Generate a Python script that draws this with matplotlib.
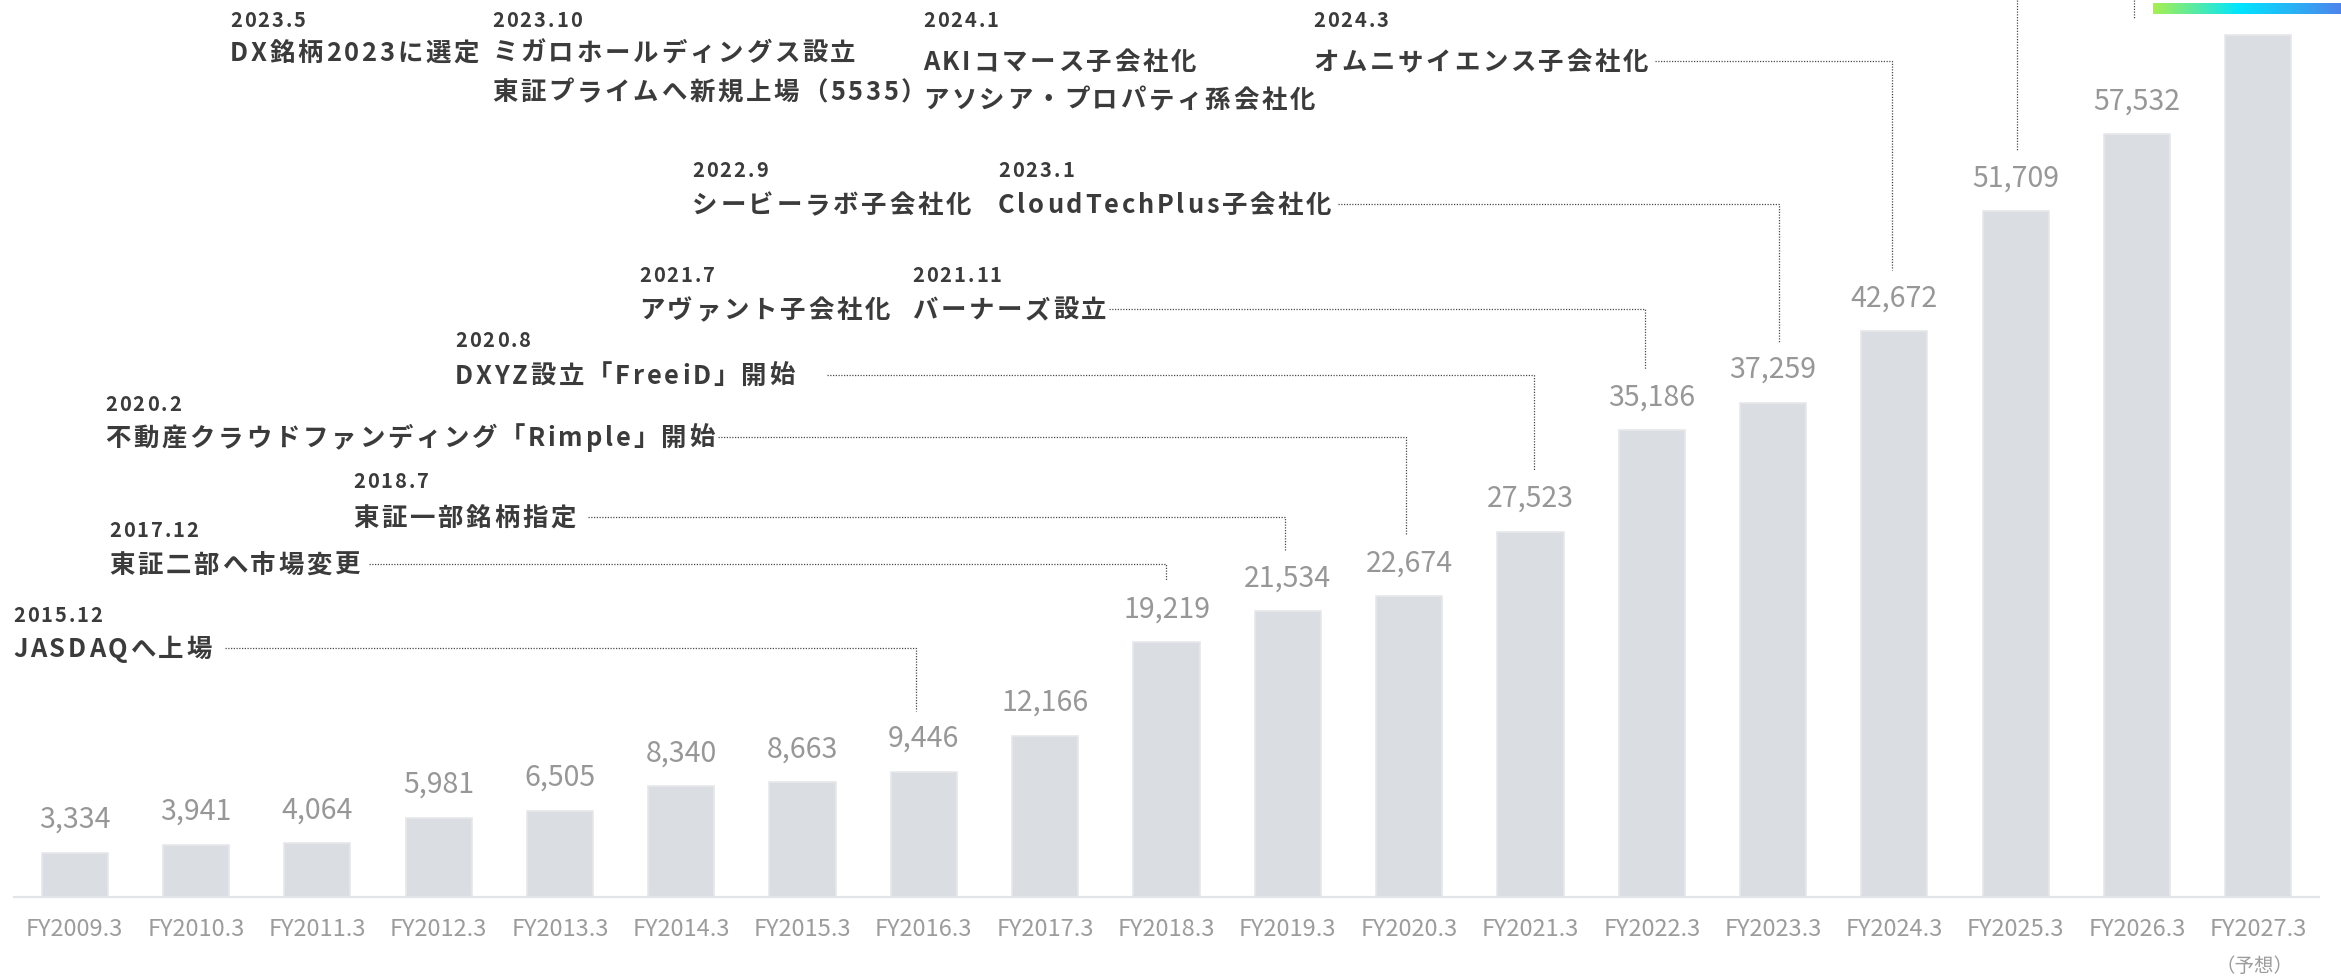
import matplotlib
matplotlib.use("Agg")
import matplotlib.pyplot as plt
import matplotlib.transforms as mtransforms
from matplotlib.colors import LinearSegmentedColormap
from matplotlib.font_manager import FontProperties
from matplotlib.lines import Line2D
import numpy as np

plt.rcParams["font.family"] = ["Noto Sans CJK JP", "DejaVu Sans"]

# 売上高の推移（百万円）
years = ["FY2009.3", "FY2010.3", "FY2011.3", "FY2012.3", "FY2013.3", "FY2014.3",
         "FY2015.3", "FY2016.3", "FY2017.3", "FY2018.3", "FY2019.3", "FY2020.3",
         "FY2021.3", "FY2022.3", "FY2023.3", "FY2024.3", "FY2025.3", "FY2026.3",
         "FY2027.3"]
sales = [3334, 3941, 4064, 5981, 6505, 8340, 8663, 9446, 12166, 19219, 21534,
         22674, 27523, 35186, 37259, 42672, 51709, 57532, 65000]
# FY2027.3 は予想、数値ラベルは上端で切れて見えない
forecast_note = "（予想）"

# 沿革
event_dates = ["2015.12", "2017.12", "2018.7", "2020.2", "2020.8", "2021.7", "2021.11",
               "2022.9", "2023.1", "2023.5", "2023.10", "2024.1", "2024.3"]
event_texts = [
    ["JASDAQへ上場"],
    ["東証二部へ市場変更"],
    ["東証一部銘柄指定"],
    ["不動産クラウドファンディング「Rimple」開始"],
    ["DXYZ設立「FreeiD」開始"],
    ["アヴァント子会社化"],
    ["バーナーズ設立"],
    ["シービーラボ子会社化"],
    ["CloudTechPlus子会社化"],
    ["DX銘柄2023に選定"],
    ["ミガロホールディングス設立", "東証プライムへ新規上場（5535）"],
    ["AKIコマース子会社化", "アソシア・プロパティ孫会社化"],
    ["オムニサイエンス子会社化"],
]
event_bar = [7, 9, 10, 11, 12, None, 13, None, 14, None, None, None, 15]
# 画面の上にはみ出した沿革から下りてくる線
offscreen_bar = [16, 17]

# ---- layout (pixels from top-left) ----
W, H = 2341, 976
ev_x = [13, 109, 353, 105, 455, 639, 912, 692, 998, 230, 492, 923, 1313]
ev_date_y = [622, 537, 488, 411, 347, 282, 282, 177, 177, 27, 27, 27, 27]
ev_text_y = [657, 573, 526, 446, 384, 318, 318, 213, 213, 61, 61, 70, 70]
ev_line_step = [0, 0, 0, 0, 0, 0, 0, 0, 0, 0, 39, 38, 0]
ev_gap = [10, 6, 10, 0, 29, 0, 0, 0, 4, 0, 0, 0, 4]
ev_line_dx = {7: -8, 9: -1, 10: -3, 11: -3, 12: 4, 13: -7, 14: 6, 15: -2, 16: 1, 17: -3}
offscreen_drop = [61, 116]

fig = plt.figure(figsize=(W / 100, H / 100), dpi=100)
renderer = fig.canvas.get_renderer()
TOP = mtransforms.Affine2D().scale(1, -1).translate(0, H)

ax = fig.add_axes([14 / W, 79 / H, 2305 / W, 897 / H])
x = np.arange(len(years))
ax.bar(x, sales, width=0.545, color="#dadde1", edgecolor="#e5e7ea", linewidth=1.2, zorder=2)
ax.set_xlim(-0.5, len(years) - 0.5)
ax.set_ylim(0, 897 / 0.01326)
for s in ["top", "left", "right"]:
    ax.spines[s].set_visible(False)
ax.spines["bottom"].set_color("#e2e4e7")
ax.spines["bottom"].set_linewidth(1.6)
ax.spines["bottom"].set_zorder(3)
ax.set_yticks([])
ax.set_xticks(x, years)
ax.tick_params(axis="x", length=0, pad=15, labelsize=17, labelcolor="#9c9c9c")

for i, v in enumerate(sales[:-1]):
    ax.annotate(f"{v:,}", (i, v), xytext=(0, 18), textcoords="offset points",
                ha="center", va="baseline", fontsize=20.5, color="#979797")

bl = mtransforms.blended_transform_factory(ax.transData, TOP)
ax.text(len(years) - 1.03, 972, forecast_note, transform=bl, ha="center", va="baseline",
        fontsize=14, color="#9c9c9c")

# ---- tracked (letter-spaced) text ----
def advance(ch, prop):
    w2 = renderer.get_text_width_height_descent("||", prop, ismath=False)[0]
    w3 = renderer.get_text_width_height_descent("|" + ch + "|", prop, ismath=False)[0]
    return w3 - w2


def tracked(x0, y0, s, prop, color, track):
    for ch in s:
        fig.text(x0, y0, ch, fontproperties=prop, color=color, transform=TOP,
                 ha="left", va="baseline")
        x0 += advance(ch, prop) + track
    return x0


date_prop = FontProperties(family=["Noto Sans CJK JP", "DejaVu Sans"], weight="bold", size=14.5)
main_prop = FontProperties(family=["Noto Sans CJK JP", "DejaVu Sans"], weight="bold", size=18.3)
ink = "#3b3b3b"
dot = dict(color="#4a4a4a", lw=0.9, linestyle=(0, (1, 1.2)),
           transform=mtransforms.IdentityTransform())

for i, d in enumerate(event_dates):
    tracked(ev_x[i], ev_date_y[i], d, date_prop, ink, 2.0)
    ends = []
    for k, line in enumerate(event_texts[i]):
        ends.append(tracked(ev_x[i], ev_text_y[i] + k * ev_line_step[i], line, main_prop, ink, 2.8))
    b = event_bar[i]
    if b is None:
        continue
    bx, by = ax.transData.transform((b, sales[b]))
    bx += ev_line_dx[b]
    yc = H - (ev_text_y[i] - 9)
    x0 = ends[0] + ev_gap[i]
    fig.add_artist(Line2D([x0, bx, bx], [yc, yc, by + 61], **dot))

for b, drop in zip(offscreen_bar, offscreen_drop):
    bx, by = ax.transData.transform((b, sales[b]))
    bx += ev_line_dx[b]
    fig.add_artist(Line2D([bx, bx], [H, by + drop], **dot))

# gradient accent at the top right
gax = fig.add_axes([2153 / W, (H - 14.5) / H, (W - 2153) / W, 11.5 / H])
cmap = LinearSegmentedColormap.from_list("acc", [(0, "#a8f050"), (0.46, "#00e5ff"), (1, "#4d84ec")])
gax.imshow(np.linspace(0, 1, 256)[None, :], cmap=cmap, aspect="auto")
gax.axis("off")

fig.savefig("out.png", dpi=100)
